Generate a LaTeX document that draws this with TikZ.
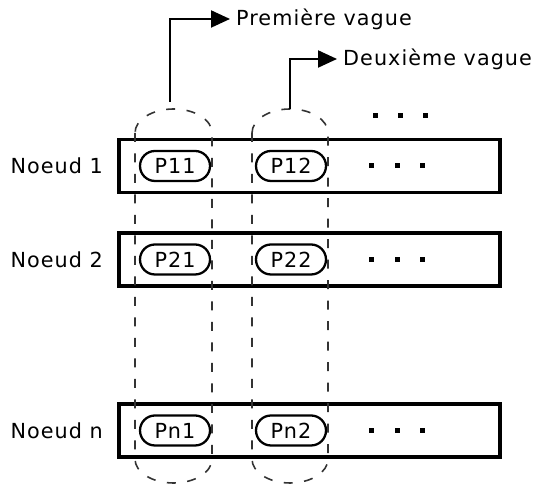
\documentclass[tikz,border=0pt]{standalone}
\usepackage{fontspec}
\setmainfont[LetterSpace=5]{DejaVu Sans}
\usetikzlibrary{arrows.meta}
\begin{document}
\begin{tikzpicture}[every node/.style={font=\fontsize{11.8}{14}\selectfont},
    noeudbox/.style={draw, line width=1.8pt, minimum width=7.62cm, minimum height=1.06cm},
    procbox/.style={draw, line width=1.3pt, rounded corners=0.3cm, minimum width=1.40cm, minimum height=0.60cm, inner sep=0pt},
    vague/.style={dash pattern=on 0.18cm off 0.23cm, line width=0.9pt, color=black!80},
    fleche/.style={line width=1.2pt, -{Triangle[length=0.38cm,width=0.34cm]}}]
        \useasboundingbox (0,0) rectangle (10.72,9.74);
        % noeuds
        \node[noeudbox] (n1) at (6.19,6.42) {};
        \node[noeudbox] (n2) at (6.19,4.55) {};
        \node[noeudbox] (nn) at (6.19,1.13) {};
        \node[anchor=east] (l1) at (2.18,6.42) {Noeud 1};
        \node[anchor=east] (l2) at (2.18,4.55) {Noeud 2};
        \node[anchor=east] (ln) at (2.18,1.13) {Noeud n};
        % processus
        \node[procbox] (p11) at (3.50,6.42) {P11};
        \node[procbox] (p12) at (5.82,6.42) {P12};
        \node[procbox] (p21) at (3.50,4.55) {P21};
        \node[procbox] (p22) at (5.82,4.55) {P22};
        \node[procbox] (pn1) at (3.50,1.13) {Pn1};
        \node[procbox] (pn2) at (5.82,1.13) {Pn2};
        % vagues
        \draw[vague] (2.70,7.08) -- (2.70,0.56) arc[start angle=180, end angle=360, x radius=0.77, y radius=0.48]
            -- (4.24,7.08) arc[start angle=0, end angle=180, x radius=0.77, y radius=0.48] -- cycle;
        \draw[vague] (5.04,7.08) -- (5.04,0.56) arc[start angle=180, end angle=360, x radius=0.76, y radius=0.48]
            -- (6.56,7.08) arc[start angle=0, end angle=180, x radius=0.76, y radius=0.48] -- cycle;
        \coordinate (w1) at (3.40,7.70);
        \coordinate (w2) at (5.80,7.56);
        \node[anchor=west] (v1) at (4.60,9.36) {Première vague};
        \node[anchor=west] (v2) at (6.74,8.56) {Deuxième vague};
        \draw[fleche] (w1) |- (v1.west);
        \draw[fleche] (w2) |- (v2.west);
        % points de suspension
        \foreach \x in {7.50,8.00,8.50}
            \fill (\x-0.05,7.37) rectangle ++(0.1,0.1);
        \foreach \y in {6.42,4.55,1.13}
            \foreach \x in {7.42,7.94,8.44}
                \fill (\x-0.05,\y-0.05) rectangle ++(0.1,0.1);
\end{tikzpicture}
\end{document}
